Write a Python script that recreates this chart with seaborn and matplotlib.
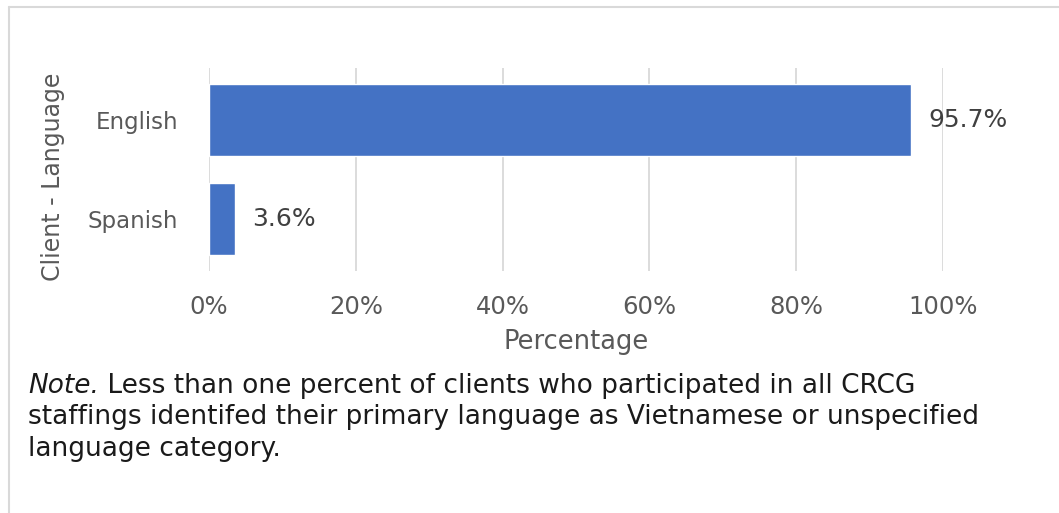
import matplotlib
matplotlib.use("Agg")
import matplotlib.pyplot as plt
import seaborn as sns
import pandas as pd
from matplotlib.lines import Line2D
from matplotlib.transforms import offset_copy

# Primary language reported by clients across CRCG staffings
languages = ["English", "Spanish"]
percentages = [95.7, 3.6]
tick_values = [0, 20, 40, 60, 80, 100]
tick_labels = ["0%", "20%", "40%", "60%", "80%", "100%"]

df = pd.DataFrame({"Language": languages, "Percentage": percentages})

sns.set_theme(style="white")
plt.rcParams["font.family"] = ["DejaVu Sans"]

W, H = 1059, 513
fig = plt.figure(figsize=(W / 100, H / 100), dpi=100)
fig.patch.set_facecolor("white")

ax = fig.add_axes([209 / W, 1 - 271 / H, (943 - 209) / W, (271 - 68) / H])
sns.barplot(data=df, x="Percentage", y="Language", orient="h",
            color="#4472C4", saturation=1, width=0.72, ax=ax, zorder=3)

ax.set_xlim(0, 100)
ax.set_ylim(1.52, -0.52)
ax.set_xticks(tick_values)
ax.set_xticklabels(tick_labels)
ax.grid(axis="x", color="#d9d9d9", linewidth=1.3, zorder=0)
ax.grid(axis="y", visible=False)
for s in ax.spines.values():
    s.set_visible(False)

grey = "#595959"
ax.tick_params(axis="x", length=0, pad=17, labelsize=17.5, labelcolor=grey)
ax.tick_params(axis="y", length=0, pad=22, labelsize=16.5, labelcolor=grey)

ax.set_xlabel("Percentage", fontsize=18.5, color=grey)
ax.xaxis.set_label_coords(0.5, (271 - 342) / 203)
ax.xaxis.label.set_va("center")
ax.set_ylabel("Client - Language", fontsize=17, color=grey)
ax.yaxis.set_label_coords((53 - 209) / 734, (271 - 177) / 203)
ax.yaxis.label.set_va("center")

for i, v in enumerate(percentages):
    ax.annotate(f"{v}%", xy=(v, i), xytext=(12, 0), textcoords="offset points",
                va="center", ha="left", fontsize=18, color="#404040")

# Caption beneath the chart; "Note." is set in italics
note_color = "#1a1a1a"
note_size = 19
x0 = 28 / W
y_first = 1 - 393 / H
lead = fig.text(x0, y_first, "Note.", fontsize=note_size, style="italic",
                color=note_color, va="baseline", ha="left")
renderer = fig.canvas.get_renderer()
lead_w = lead.get_window_extent(renderer).width
fig.text(x0, y_first, " Less than one percent of clients who participated in all CRCG",
         fontsize=note_size, color=note_color, va="baseline", ha="left",
         transform=offset_copy(fig.transFigure, fig=fig, x=lead_w * 72 / fig.dpi, units="points"))

note_rest = [
    "staffings identifed their primary language as Vietnamese or unspecified",
    "language category.",
]
for k, line in enumerate(note_rest, start=1):
    fig.text(x0, 1 - (393 + 31.5 * k) / H, line, fontsize=note_size,
             color=note_color, va="baseline", ha="left")

# Thin frame around the chart area
fig.add_artist(Line2D([9 / W, 1], [1 - 7 / H, 1 - 7 / H], color="#d9d9d9", lw=1.5))
fig.add_artist(Line2D([9 / W, 9 / W], [1 - 7 / H, 0], color="#d9d9d9", lw=1.5))

fig.savefig("out.png", dpi=100, facecolor="white")
